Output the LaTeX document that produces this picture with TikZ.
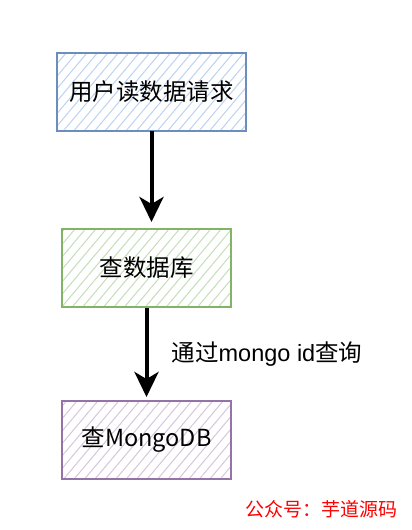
\documentclass[tikz,border=0pt]{standalone}
\usepackage{fontspec}
\setmainfont{Liberation Sans}
\newfontfamily\cjk{Noto Sans CJK SC}
\usetikzlibrary{patterns.meta,arrows.meta}
\definecolor{bluestroke}{HTML}{6C8EBF}
\definecolor{bluehatch}{HTML}{BBD2F2}
\definecolor{greenstroke}{HTML}{82B366}
\definecolor{greenhatch}{HTML}{C3DFBA}
\definecolor{purplestroke}{HTML}{9673A6}
\definecolor{purplehatch}{HTML}{D5C6E0}
\definecolor{wmred}{HTML}{FF0000}
\tikzset{
  hatchbox/.style 2 args={draw=#1, line width=2pt, rectangle, inner sep=0pt,
    pattern={Lines[angle=50,distance=8pt,line width=1pt]}, pattern color=#2,
    font=\cjk\fontsize{23.5}{28}\selectfont},
  flow/.style={line width=4pt, -{Stealth[length=25pt,width=24pt,inset=7pt]}},
  lbl/.style={font=\fontsize{23.5}{28}\selectfont, inner sep=0pt},
}
\begin{document}
\begin{tikzpicture}[x=1pt,y=-1pt]
\useasboundingbox (0,0) rectangle (412,530);
\fill[white] (0,0) rectangle (412,530);
\node[hatchbox={bluestroke}{bluehatch}, minimum width=189pt, minimum height=78pt] (req) at (151.5,91.5) {用户读数据请求};
\node[hatchbox={greenstroke}{greenhatch}, minimum width=169pt, minimum height=78pt] (db) at (146.5,268) {查数据库};
\node[hatchbox={purplestroke}{purplehatch}, minimum width=169pt, minimum height=78pt] (mongo) at (146.5,440) {{\cjk 查}MongoDB};
\coordinate (t1) at (151.5,222);
\coordinate (t2) at (146.5,397);
\draw[flow] (req.south) -- (t1);
\draw[flow] (db.south) -- (t2);
\node[lbl] (via) at (267,354) {{\cjk 通过}mongo id{\cjk 查询}};
\node[font=\cjk\fontsize{19}{23}\selectfont, text=wmred, inner sep=0pt] (wm) at (321.5,509) {公众号：芋道源码};
\end{tikzpicture}
\end{document}
